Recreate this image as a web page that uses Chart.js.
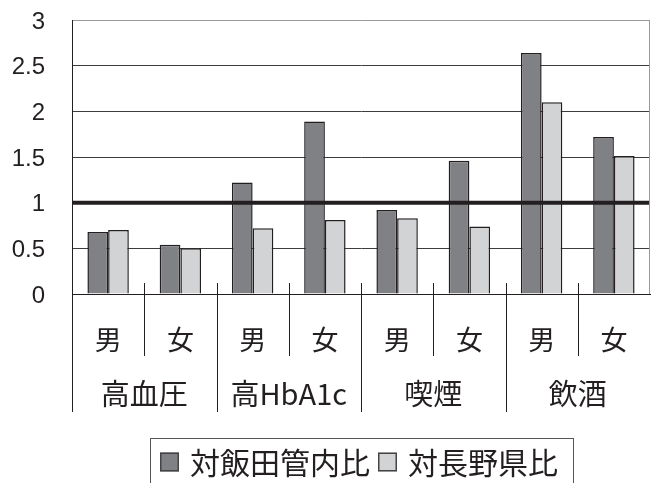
<!DOCTYPE html>
<html lang="ja">
<head>
<meta charset="utf-8">
<script src="https://cdn.jsdelivr.net/npm/chart.js@4.4.1/dist/chart.umd.min.js"></script>
<style>
  html, body { margin: 0; padding: 0; background: #fff; }
  #wrap { width: 651px; height: 483px; }
</style>
</head>
<body>
<div id="wrap"><canvas id="ratioChart"></canvas></div>
<script>
const sexLabels = ['男', '女', '男', '女', '男', '女', '男', '女'];
const groupLabels = ['高血圧', '高HbA1c', '喫煙', '飲酒'];
const seriesNames = ['対飯田管内比', '対長野県比'];
const iidaRatio = [0.68, 0.54, 1.22, 1.89, 0.92, 1.46, 2.64, 1.72];
const naganoRatio = [0.70, 0.50, 0.72, 0.81, 0.83, 0.74, 2.10, 1.51];
const yTicks = [0, 0.5, 1, 1.5, 2, 2.5, 3];
const baseline = 1;

const ink = '#231f20';
const fills = ['#808184', '#d1d3d4'];
const jpFont = "'Noto Sans CJK JP', 'Noto Sans', sans-serif";

// thick line at ratio 1, drawn over the bars
const baselinePlugin = {
    id: 'baseline',
    afterDatasetsDraw(chart) {
        const {ctx, chartArea: a, scales: {y}} = chart;
        const py = y.getPixelForValue(baseline);
        ctx.save();
        ctx.strokeStyle = ink;
        ctx.lineWidth = 4;
        ctx.beginPath();
        ctx.moveTo(a.left, py);
        ctx.lineTo(a.right, py);
        ctx.stroke();
        ctx.restore();
    }
};

// separators below the x axis, group names, right frame edge
const categoryFrame = {
    id: 'categoryFrame',
    afterDraw(chart) {
        const {ctx, chartArea: a, scales: {x}} = chart;
        const step = x.getPixelForValue(1) - x.getPixelForValue(0);
        ctx.save();
        ctx.strokeStyle = '#9a9a9a';
        ctx.lineWidth = 1;
        ctx.beginPath();
        ctx.moveTo(a.right - 0.5, a.top);
        ctx.lineTo(a.right - 0.5, a.bottom);
        ctx.stroke();

        ctx.strokeStyle = ink;
        ctx.beginPath();
        ctx.moveTo(Math.round(a.left) + 0.5, a.bottom);
        ctx.lineTo(Math.round(a.left) + 0.5, a.bottom + 118);
        for (let i = 1; i < sexLabels.length; i++) {
            const px = Math.round(x.getPixelForValue(i) - step / 2) + 0.5;
            const end = i % 2 === 0 ? a.bottom + 118 : a.bottom + 62;
            ctx.moveTo(px, a.bottom - 11);
            ctx.lineTo(px, end);
        }
        ctx.stroke();

        ctx.fillStyle = ink;
        ctx.font = '29px ' + jpFont;
        ctx.textAlign = 'center';
        ctx.textBaseline = 'middle';
        groupLabels.forEach((g, i) => {
            const cx = (x.getPixelForValue(i * 2) + x.getPixelForValue(i * 2 + 1)) / 2;
            ctx.fillText(g, cx, a.bottom + 100);
        });
        ctx.restore();
    }
};

// boxed legend under the category labels
const boxedLegend = {
    id: 'boxedLegend',
    afterDraw(chart) {
        const {ctx, chartArea: a} = chart;
        const sw = 19, gap = 11, between = 8, padL = 10, padR = 15;
        const cy = 462;
        ctx.save();
        ctx.font = '30px ' + jpFont;
        const widths = chart.data.datasets.map(d => ctx.measureText(d.label).width);
        let total = padL + padR + between * (widths.length - 1);
        widths.forEach(w => { total += sw + gap + w; });
        const left = Math.round((a.left + a.right) / 2 - total / 2);

        ctx.strokeStyle = '#555';
        ctx.lineWidth = 1;
        ctx.strokeRect(left + 0.5, cy - 23.5, total, 60);

        let cx = left + padL;
        chart.data.datasets.forEach((d, i) => {
            ctx.fillStyle = d.backgroundColor;
            ctx.fillRect(cx, cy - sw / 2, sw, sw);
            ctx.strokeStyle = '#444';
            ctx.lineWidth = 1.5;
            ctx.strokeRect(cx + 0.75, cy - sw / 2 + 0.75, sw - 1.5, sw - 1.5);
            ctx.fillStyle = ink;
            ctx.textAlign = 'left';
            ctx.textBaseline = 'middle';
            ctx.fillText(d.label, cx + sw + gap, cy + 1);
            cx += sw + gap + widths[i] + between;
        });
        ctx.restore();
    }
};

const ctx = document.getElementById('ratioChart');
const myChart = new Chart(ctx, {
    type: 'bar',
    data: {
        labels: sexLabels,
        datasets: [{
            label: seriesNames[0],
            data: iidaRatio,
            backgroundColor: fills[0],
            borderColor: ink,
            borderWidth: 1.5,
        }, {
            label: seriesNames[1],
            data: naganoRatio,
            backgroundColor: fills[1],
            borderColor: ink,
            borderWidth: 1.5,
        }]
    },
    options: {
        responsive: true,
        maintainAspectRatio: false,
        animation: false,
        categoryPercentage: 0.573,
        barPercentage: 1.0,
        layout: { padding: { top: 20, right: 1, left: 0, bottom: 0 } },
        plugins: {
            legend: { display: false },
            tooltip: { enabled: false },
        },
        scales: {
            x: {
                grid: { display: false },
                border: { display: true, color: ink, width: 1 },
                ticks: {
                    color: ink,
                    font: { family: jpFont, size: 27 },
                    padding: 22,
                    maxRotation: 0,
                },
                afterFit: (scale) => { scale.height = 189; },
            },
            y: {
                min: 0,
                max: 3,
                afterBuildTicks: (scale) => { scale.ticks = yTicks.map(v => ({ value: v })); },
                grid: {
                    color: (c) => c.tick && c.tick.value === 3 ? '#9a9a9a' : '#3c3c3c',
                    lineWidth: 1,
                    drawTicks: false,
                },
                border: { display: true, color: ink, width: 1 },
                ticks: {
                    color: ink,
                    font: { family: "'Liberation Sans', Arial, sans-serif", size: 24 },
                    padding: 27,
                    labelOffset: 2,
                    callback: (v) => String(v),
                },
                afterFit: (scale) => {
                    scale.width = 72;
                    scale.paddingTop = 0;
                    scale.paddingBottom = 0;
                },
            }
        }
    },
    plugins: [baselinePlugin, categoryFrame, boxedLegend]
});
</script>
</body>
</html>
